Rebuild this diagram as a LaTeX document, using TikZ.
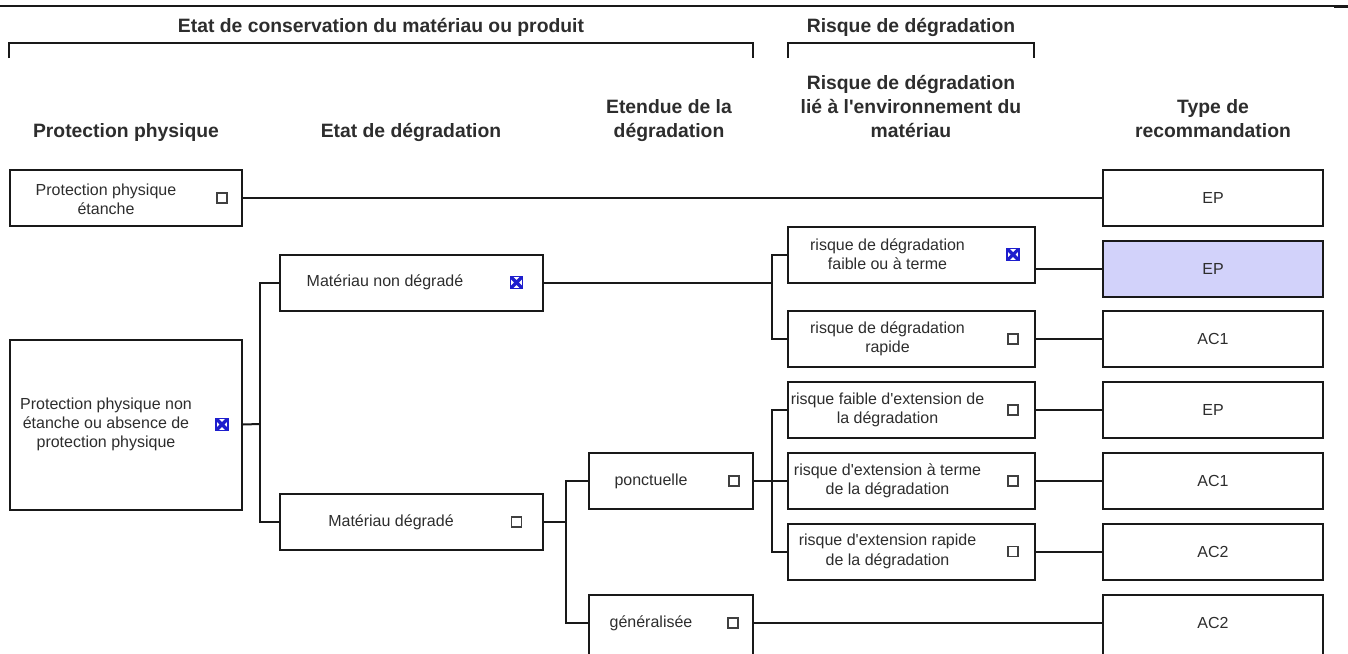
\documentclass[tikz,border=0pt]{standalone}
\usepackage{fontspec}
\setmainfont{Liberation Sans}
\usepackage{tikz}
\newdimen\px \px=0.75pt
\definecolor{selfill}{RGB}{210,210,250}
\definecolor{tickblue}{RGB}{30,30,205}
\definecolor{ink}{RGB}{45,45,45}

\begin{document}
\begin{tikzpicture}[x=0.75pt,y=-0.75pt]
\tikzstyle{every node}+=[inner sep=0pt]
\tikzstyle{box}=[draw=black!90,line width=1.5pt,minimum height=56\px]
\tikzstyle{txt}=[font=\fontsize{12}{14.5}\selectfont,text=ink,align=center]
\tikzstyle{hd}=[font=\bfseries\fontsize{14.5}{18}\selectfont,text=ink,align=center,anchor=north]
\tikzstyle{chk}=[draw=black!75,line width=1.1pt,minimum size=10\px]
\tikzstyle{chkx}=[draw=tickblue,line width=1.2pt,minimum size=12\px,
  path picture={\draw[tickblue,line width=2.4pt] (path picture bounding box.north west) -- (path picture bounding box.south east)
  (path picture bounding box.north east) -- (path picture bounding box.south west);}]
\tikzstyle{wire}=[draw=black!90,line width=1.5pt]
\clip (0,0) rectangle (1348,653);
\draw [black!90,line width=0.8pt] (0,6) -- (1348,6);
\draw [black!90,line width=2pt] (1334,7) -- (1348,7);
\node[hd] (g1) at (381,18) {Etat de conservation du matériau ou produit};
\node[hd] (g2) at (911,18) {Risque de dégradation};
\draw [black!90,line width=1.5pt] (9,58) |- (753,43) -- (753,58);
\draw [black!90,line width=1.5pt] (788,58) |- (1034,43) -- (1034,58);
\node[hd] (h1) at (126,123) {Protection physique};
\node[hd] (h2) at (411,123) {Etat de dégradation};
\node[hd] (h3) at (669,99) {Etendue de la\\dégradation};
\node[hd] (h4) at (911,75) {Risque de dégradation\\lié à l\textquotesingle environnement du\\matériau};
\node[hd] (h5) at (1213,99) {Type de\\recommandation};
\node[box,minimum width=232\px] (ppe) at (126,198) {};
\node[txt] at ([xshift=-20\px,yshift=-1\px]ppe.center) {Protection physique\\étanche};
\node[chk] (ppe-c) at ([xshift=-21\px]ppe.east) {};
\node[box,minimum width=232\px,minimum height=170\px] (ppn) at (126,424.5) {};
\node[txt] at ([xshift=-20\px]ppn.center) {Protection physique non\\étanche ou absence de\\protection physique};
\node[chkx] (ppn-c) at ([xshift=-21\px]ppn.east) {};
\node[box,minimum width=263\px] (mnd) at (411,282.5) {};
\node[txt] at ([xshift=-26\px]mnd.center) {Matériau non dégradé};
\node[chkx] (mnd-c) at ([xshift=-27\px]mnd.east) {};
\node[box,minimum width=263\px] (md) at (411,522) {};
\node[txt] at ([xshift=-20\px]md.center) {Matériau dégradé};
\node[chk] (md-c) at ([xshift=-27\px]md.east) {};
\node[box,minimum width=164\px] (ponct) at (671,481) {};
\node[txt] at ([xshift=-20\px]ponct.center) {ponctuelle};
\node[chk] (ponct-c) at ([xshift=-20\px]ponct.east) {};
\node[box,minimum width=164\px,minimum height=62\px] (gen) at (671,626) {};
\node[txt] at (651,623) {généralisée};
\node[chk] (gen-c) at (733,623) {};
\node[box,minimum width=247\px] (r1) at (911.5,254.5) {};
\node[txt] at ([xshift=-24\px]r1.center) {risque de dégradation\\faible ou à terme};
\node[chkx] (r1-c) at ([xshift=-23\px]r1.east) {};
\node[box,minimum width=247\px] (r2) at (911.5,339) {};
\node[txt] at ([xshift=-24\px]r2.center) {risque de dégradation\\rapide};
\node[chk] (r2-c) at ([xshift=-23\px]r2.east) {};
\node[box,minimum width=247\px] (r3) at (911.5,410) {};
\node[txt] at ([xshift=-24\px]r3.center) {risque faible d\textquotesingle extension de\\la dégradation};
\node[chk] (r3-c) at ([xshift=-23\px]r3.east) {};
\node[box,minimum width=247\px] (r4) at (911.5,481) {};
\node[txt] at ([xshift=-24\px]r4.center) {risque d\textquotesingle extension à terme\\de la dégradation};
\node[chk] (r4-c) at ([xshift=-23\px]r4.east) {};
\node[box,minimum width=247\px] (r5) at (911.5,551.5) {};
\node[txt] at ([xshift=-24\px]r5.center) {risque d\textquotesingle extension rapide\\de la dégradation};
\node[chk] (r5-c) at ([xshift=-23\px]r5.east) {};
\node[box,minimum width=220\px] (t1) at (1213,198) {};
\node[txt] at (t1) {EP};
\node[box,minimum width=220\px,fill=selfill] (t2) at (1213,269) {};
\node[txt] at (t2) {EP};
\node[box,minimum width=220\px] (t3) at (1213,339) {};
\node[txt] at (t3) {AC1};
\node[box,minimum width=220\px] (t4) at (1213,410) {};
\node[txt] at (t4) {EP};
\node[box,minimum width=220\px] (t5) at (1213,481) {};
\node[txt] at (t5) {AC1};
\node[box,minimum width=220\px] (t6) at (1213,551.5) {};
\node[txt] at (t6) {AC2};
\node[box,minimum width=220\px,minimum height=62\px] (t7) at (1213,626) {};
\node[txt] at (1213,623) {AC2};
\coordinate (j1) at (260,424);
\coordinate (j2) at (772,282.5);
\coordinate (j3) at (566,522);
\coordinate (j4) at (772,481);
\draw [wire] (ppe.east) -- (t1.west);
\draw [wire] (ppn-c -| ppn.east) -- (j1);
\draw [wire] (mnd.west) -| (j1) |- (md.west);
\draw [wire] (mnd.east) -- (j2);
\draw [wire] (r1.west) -| (j2) |- (r2.west);
\draw [wire] (md.east) -- (j3);
\draw [wire] (ponct.west) -| (j3) |- (gen-c -| gen.west);
\draw [wire] (ponct.east) -- (r4.west);
\draw [wire] (r3.west) -| (j4) |- (r5.west);
\draw [wire] (gen-c -| gen.east) -- (gen-c -| t7.west);
\draw [wire] (r1.east |- t2.west) -- (t2.west);
\draw [wire] (r2.east) -- (t3.west);
\draw [wire] (r3.east) -- (t4.west);
\draw [wire] (r4.east) -- (t5.west);
\draw [wire] (r5.east) -- (t6.west);
\end{tikzpicture}
\end{document}
